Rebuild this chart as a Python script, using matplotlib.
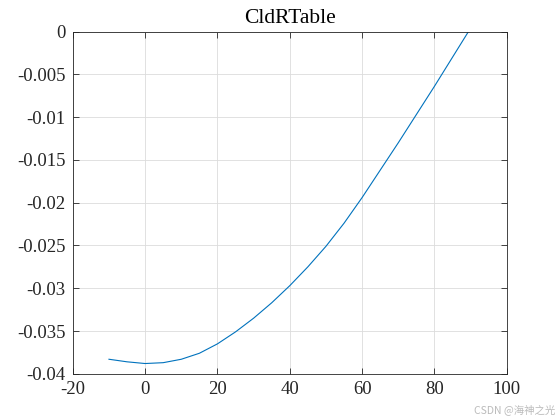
import matplotlib
matplotlib.use("Agg")
import matplotlib.pyplot as plt

x_vals = [-10, -5, 0, 5, 10, 15, 20, 25, 30, 35, 40, 45, 50, 55, 60, 65, 70, 75, 80, 85, 90]
y_vals = [-0.0383, -0.0386, -0.0388, -0.0387, -0.0383, -0.0376, -0.0365, -0.0351, -0.0335,
          -0.0317, -0.0297, -0.0275, -0.0251, -0.0224, -0.0194, -0.0162, -0.0130, -0.0097,
          -0.0064, -0.0030, 0.0004]
x_ticks = [-20, 0, 20, 40, 60, 80, 100]
x_labels = ['-20', '0', '20', '40', '60', '80', '100']
y_ticks = [-0.04, -0.035, -0.03, -0.025, -0.02, -0.015, -0.01, -0.005, 0]
y_labels = ['-0.04', '-0.035', '-0.03', '-0.025', '-0.02', '-0.015', '-0.01', '-0.005', '0']
title = 'CldRTable'

plt.rcParams['font.family'] = ['Liberation Serif', 'DejaVu Serif']
fig = plt.figure(figsize=(5.6, 4.2), dpi=100)
ax = fig.add_axes([0.13, 0.11, 0.775, 0.815])
ax.plot(x_vals, y_vals, color='#0072BD', linewidth=0.8, solid_joinstyle='round')
ax.set_xlim(-20, 100)
ax.set_ylim(-0.04, 0)
ax.set_xticks(x_ticks)
ax.set_xticklabels(x_labels)
ax.set_yticks(y_ticks)
ax.set_yticklabels(y_labels)
ax.tick_params(direction='in', top=True, right=True, labelsize=13.5, length=4,
               width=0.6, color='#262626', labelcolor='#262626', pad=5)
ax.grid(True, color='#dcdcdc', linewidth=0.6)
for s in ax.spines.values():
    s.set_linewidth(0.6)
    s.set_color('#262626')
ax.set_title(title, fontsize=15.5, color='#000000', pad=6)
fig.text(0.992, 0.012, 'CSDN @海神之光', ha='right', va='bottom', fontsize=7.5,
         color='#bbbbbb', family=['Noto Sans CJK SC', 'DejaVu Sans'])
fig.savefig('out.png', dpi=100)
